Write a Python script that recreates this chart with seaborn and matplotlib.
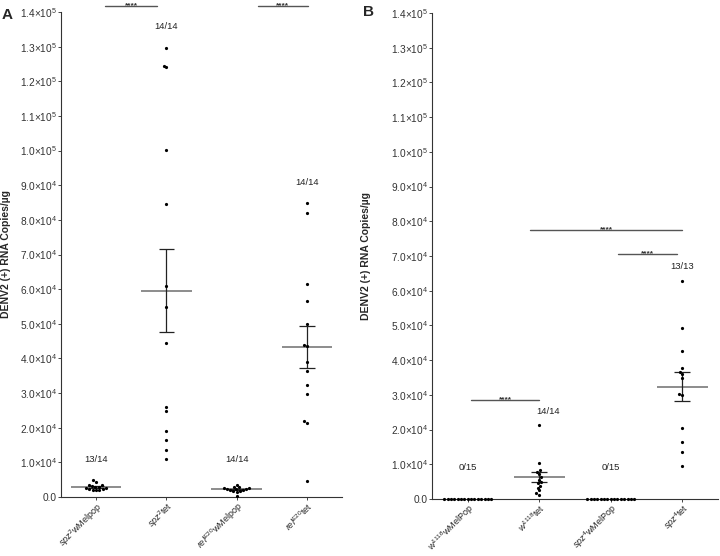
import numpy as np
import pandas as pd
import matplotlib
matplotlib.use("Agg")
import matplotlib.pyplot as plt
import seaborn as sns

sns.set_style("ticks")
plt.rcParams['font.family'] = ['Liberation Sans', 'DejaVu Sans']
plt.rcParams['mathtext.fontset'] = 'custom'
plt.rcParams['mathtext.rm'] = 'Liberation Sans'
plt.rcParams['mathtext.it'] = 'Liberation Sans:italic'
plt.rcParams['mathtext.bf'] = 'Liberation Sans:bold'
plt.rcParams['mathtext.default'] = 'regular'

# ---------------- data ----------------
groups_a = ["spz2_wMelpop", "spz2_tet", "relE20_wMelpop", "relE20_tet"]
labels_a = [r"$\mathit{spz}^{\mathit{2}}$wMelpop", r"$\mathit{spz}^{\mathit{2}}$tet",
            r"$\mathit{rel}^{\mathit{E20}}$wMelpop", r"$\mathit{rel}^{\mathit{E20}}$tet"]
spz2_wmelpop = [4900, 4400, 3600, 3400, 3200, 3000, 2900, 2700, 2500, 2300, 2200, 2100, 2000, 2000]
spz2_tet = [129500, 124500, 124000, 100300, 84600, 60900, 54800, 44400, 26100, 24800,
            19100, 16500, 13600, 11000]
rel_wmelpop = [3600, 3000, 2800, 2600, 2500, 2400, 2300, 2200, 2100, 2000, 1800, 1600, 1400, 200]
rel_tet = [85000, 81900, 61500, 56500, 49900, 43800, 43500, 38900, 36400, 32200, 29600,
           21900, 21400, 4600]
counts_a = ["13/14", "14/14", "14/14", "14/14"]
count_y_a = [9500, 134500, 9500, 89500]

groups_b = ["w1118_wMelPop", "w1118_tet", "spz4_wMelPop", "spz4_tet"]
labels_b = [r"$\mathit{w}^{\mathit{1118}}$wMelPop", r"$\mathit{w}^{\mathit{1118}}$tet",
            r"$\mathit{spz}^{\mathit{4}}$wMelPop", r"$\mathit{spz}^{\mathit{4}}$tet"]
w1118_wmelpop = [0] * 15
w1118_tet = [21400, 10500, 8300, 7900, 7200, 6300, 5600, 5000, 4500, 3800, 3300, 2500, 1700, 1200]
spz4_wmelpop = [0] * 15
spz4_tet = [62800, 49200, 42700, 37700, 36600, 35900, 34900, 30200, 30000, 20500, 16500,
            13600, 9600]
counts_b = ["0/15", "14/14", "0/15", "13/13"]
count_y_b = [7800, 23800, 7800, 65800]

# significance bars: (x0, x1, y)
sig_a = [(0.13, 0.87, 141800), (2.3, 3.01, 141800)]
sig_b = [(0.875, 3.0, 77500), (2.1, 2.93, 70500), (0.05, 1.0, 28500)]

yticks = list(range(0, 140001, 10000))


def fmt(v):
    if v == 0:
        return "0.0"
    e = int(np.floor(np.log10(v)))
    m = v / 10 ** e
    return f"{m:.1f}×10$^{{{e}}}$"


def panel(ax, groups, labels, series, counts, count_y, sigs, count_dx):
    df = pd.DataFrame({
        "group": np.concatenate([[g] * len(s) for g, s in zip(groups, series)]),
        "value": np.concatenate([np.asarray(s, float) for s in series]),
    })
    sns.swarmplot(data=df, x="group", y="value", order=groups, color="black",
                  size=2.3, ax=ax, zorder=3)
    for c in ax.collections:
        c.set_clip_on(False)
    for i, s in enumerate(series):
        s = np.asarray(s, float)
        m = s.mean()
        if s.max() == 0:
            continue
        se = s.std(ddof=1) / np.sqrt(len(s))
        ax.hlines(m, i - 0.36, i + 0.36, color="#8c8c8c", lw=1.4, zorder=2)
        ax.vlines(i, m - se, m + se, color="#222222", lw=0.9, zorder=2)
        ax.hlines([m - se, m + se], i - 0.11, i + 0.11, color="#222222", lw=0.9, zorder=2)
    for i, (t, y) in enumerate(zip(counts, count_y)):
        ax.text(i + count_dx[i], y, t, ha="center", va="bottom", fontsize=6.8, color="#222222")
    for x0, x1, y in sigs:
        ax.plot([x0, x1], [y, y], color="#555555", lw=1.0, clip_on=False)
        ax.text((x0 + x1) / 2, y - 300, "****", ha="center", va="baseline",
                fontsize=6, fontweight="bold", color="#333333", clip_on=False)
    ax.set_xlim(-0.5, 3.5)
    ax.set_ylim(0, 140000)
    ax.set_yticks(yticks)
    ax.set_yticklabels([fmt(v) for v in yticks], fontsize=7.3, color="#333333")
    ax.set_xticks(range(4))
    ax.set_xticklabels(labels, rotation=45, ha="right", rotation_mode="anchor",
                       fontsize=6.5, color="#222222")
    ax.tick_params(axis="both", length=2, width=0.6, pad=1)
    ax.tick_params(axis="x", pad=0.5)
    ax.set_xlabel("")
    ax.set_ylabel("DENV2 (+) RNA Copies/µg", fontsize=7.5, fontweight="bold")
    for sp in ["top", "right"]:
        ax.spines[sp].set_visible(False)
    for sp in ["left", "bottom"]:
        ax.spines[sp].set_linewidth(0.8)
        ax.spines[sp].set_color("#333333")


fig = plt.figure(figsize=(7.2, 5.56), dpi=100)
ax_a = fig.add_axes([61 / 720, 1 - 497 / 556, 281 / 720, 485 / 556])
ax_b = fig.add_axes([432 / 720, 1 - 499 / 556, 286 / 720, 486 / 556])

panel(ax_a, groups_a, labels_a, [spz2_wmelpop, spz2_tet, rel_wmelpop, rel_tet],
      counts_a, count_y_a, sig_a, [0, 0, 0, 0])
panel(ax_b, groups_b, labels_b, [w1118_wmelpop, w1118_tet, spz4_wmelpop, spz4_tet],
      counts_b, count_y_b, sig_b, [0, 0.12, 0, 0])

ax_a.yaxis.set_label_coords(-0.178, 0.5)
ax_b.yaxis.set_label_coords(-0.213, 0.5)

fig.text(2 / 720, 1 - 19 / 556, "A", fontsize=11, fontweight="bold")
fig.text(363 / 720, 1 - 16 / 556, "B", fontsize=11, fontweight="bold")

fig.savefig("out.png", dpi=100)
